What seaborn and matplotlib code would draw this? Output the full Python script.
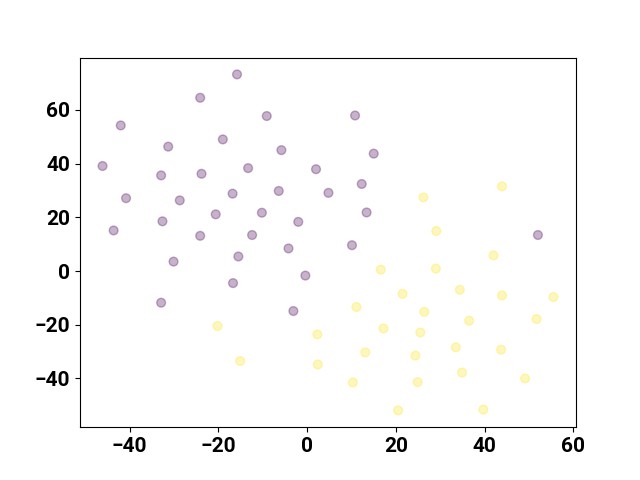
import matplotlib
matplotlib.use("Agg")
import matplotlib.pyplot as plt
import seaborn as sns
import pandas as pd

purple_x = [-15.8, -24.1, -9.1, -42.0, -19.0, -31.3, -5.8, -46.1, -32.9, -23.8,
            -13.3, 2.0, 4.8, -40.8, -28.7, -16.8, -6.4, -20.6, -10.2, -32.6,
            -2.0, -43.6, -24.1, -12.4, -30.1, -15.5, -4.2, -0.4, -16.7, -32.9,
            -3.1, 10.8, 15.0, 12.3, 13.4, 10.1, 52.0]
purple_y = [73.2, 64.5, 57.7, 54.2, 49.0, 46.3, 45.0, 39.1, 35.6, 36.2,
            38.3, 37.9, 29.1, 27.1, 26.3, 28.8, 29.8, 21.1, 21.7, 18.5,
            18.3, 15.1, 13.1, 13.4, 3.5, 5.4, 8.4, -1.7, -4.5, -11.8,
            -14.9, 57.9, 43.7, 32.4, 21.8, 9.6, 13.4]

yellow_x = [-20.2, 2.3, -15.1, 2.4, 43.9, 26.2, 29.1, 42.0, 16.6, 29.0,
            21.5, 34.4, 43.9, 55.5, 11.1, 26.4, 36.5, 51.7, 17.2, 25.5,
            13.1, 24.4, 33.5, 43.7, 10.3, 24.9, 34.9, 49.1, 20.5, 39.7]
yellow_y = [-20.5, -23.6, -33.5, -34.8, 31.5, 27.4, 14.9, 5.8, 0.5, 0.9,
            -8.5, -7.0, -9.1, -9.7, -13.4, -15.2, -18.5, -17.9, -21.4, -22.9,
            -30.3, -31.5, -28.4, -29.3, -41.5, -41.4, -37.8, -40.0, -51.9, -51.6]

df = pd.DataFrame({
    "x": purple_x + yellow_x,
    "y": purple_y + yellow_y,
    "label": [0] * len(purple_x) + [1] * len(yellow_x),
})

plt.rcParams["font.family"] = ["Roboto", "DejaVu Sans"]
plt.rcParams["font.weight"] = "bold"

fig, ax = plt.subplots(figsize=(6.4, 4.8), dpi=100)
sns.scatterplot(data=df, x="x", y="y", hue="label",
                palette={0: "#440154", 1: "#fde725"},
                alpha=0.3, s=40, edgecolor="face", linewidth=1,
                legend=False, ax=ax)
ax.set_xlabel("")
ax.set_ylabel("")
ax.set_xticks([-40, -20, 0, 20, 40, 60])
ax.set_yticks([-40, -20, 0, 20, 40, 60])
ax.tick_params(labelsize=15)
for lab in ax.get_xticklabels() + ax.get_yticklabels():
    lab.set_fontweight("bold")
fig.savefig("out.png", dpi=100)
